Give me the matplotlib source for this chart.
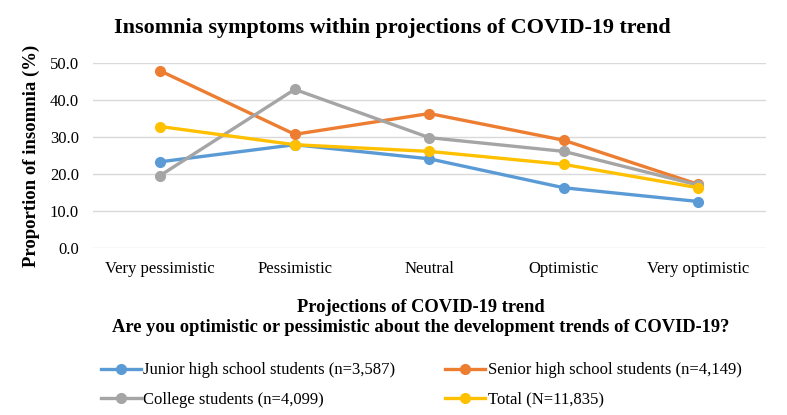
import matplotlib.pyplot as plt
from matplotlib.ticker import FormatStrFormatter

plt.rcParams['font.family'] = ['Liberation Serif', 'DejaVu Serif']

categories = ['Very pessimistic', 'Pessimistic', 'Neutral', 'Optimistic', 'Very optimistic']
junior = [23.3, 27.9, 24.1, 16.3, 12.6]
senior = [47.8, 30.7, 36.3, 29.1, 17.2]
college = [19.6, 42.8, 29.8, 26.1, 17.0]
total = [32.8, 27.9, 26.1, 22.6, 16.3]

labels = ['Junior high school students (n=3,587)', 'Senior high school students (n=4,149)',
          'College students (n=4,099)', 'Total (N=11,835)']
colors = ['#5B9BD5', '#ED7D31', '#A5A5A5', '#FFC000']

fig = plt.figure(figsize=(7.87, 4.15), dpi=100)
ax = fig.add_axes([0.118, 0.4017, 0.855, 0.4473])

x = range(len(categories))
lines = []
for ys, lab, c in zip([junior, senior, college, total], labels, colors):
    l, = ax.plot(x, ys, color=c, lw=2.4, marker='o', ms=7, label=lab)
    lines.append(l)

ax.set_xlim(-0.5, 4.5)
ax.set_ylim(0, 50)
ax.set_yticks([0, 10, 20, 30, 40, 50])
ax.yaxis.set_major_formatter(FormatStrFormatter('%.1f'))
ax.set_xticks(list(x))
ax.set_xticklabels(categories)
ax.grid(axis='y', color='#d9d9d9', lw=1)
ax.set_axisbelow(True)
for s in ax.spines.values():
    s.set_visible(False)
ax.tick_params(length=0, labelsize=12)
ax.tick_params(axis='y', pad=10)
ax.tick_params(axis='x', pad=9)
ax.set_ylabel('Proportion of insomnia (%)', fontsize=13.5, fontweight='bold', labelpad=7)

fig.text(0.499, 0.932, 'Insomnia symptoms within projections of COVID-19 trend',
         ha='center', va='center', fontsize=15.9, fontweight='bold')
fig.text(0.535, 1 - 307 / 415, 'Projections of COVID-19 trend',
         ha='center', va='center', fontsize=13.3, fontweight='bold')
fig.text(0.535, 1 - 328 / 415, 'Are you optimistic or pessimistic about the development trends of COVID-19?',
         ha='center', va='center', fontsize=13.3, fontweight='bold')

# row-major order like the original legend
order = [0, 2, 1, 3]
fig.legend([lines[i] for i in order], [labels[i] for i in order],
           loc='center', bbox_to_anchor=(0.535, 0.072), ncol=2, frameon=False,
           fontsize=12, handlelength=2.4, handletextpad=0.15, columnspacing=3.0,
           labelspacing=0.8)

fig.savefig('out.png', dpi=100)
